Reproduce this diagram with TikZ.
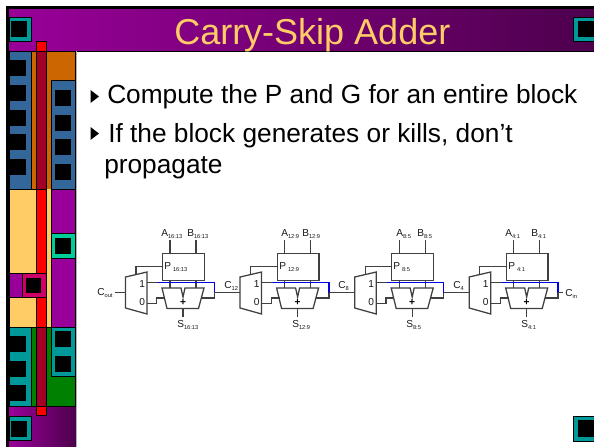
\documentclass[tikz,border=0pt]{standalone}
\usepackage{fontspec}
\setmainfont{Liberation Sans}
\definecolor{vio}{HTML}{990099}
\definecolor{viod}{HTML}{4D004D}
\definecolor{org}{HTML}{CC6600}
\definecolor{lorg}{HTML}{FFCC66}
\definecolor{blu}{HTML}{336699}
\definecolor{teal2}{HTML}{009999}
\definecolor{mint}{HTML}{00CC99}
\definecolor{grn}{HTML}{008000}
\definecolor{mag}{HTML}{CC0066}
\definecolor{dred}{HTML}{A30026}
\definecolor{wireblue}{HTML}{0000E6}
\newcommand{\lab}[2]{{\fontsize{7.6}{9}\selectfont #1}\raisebox{-1.6pt}{\fontsize{4.3}{5}\selectfont #2}}
\newcommand{\labp}[2]{{\fontsize{7.6}{9}\selectfont #1}\hspace{1.5pt}\raisebox{-1.6pt}{\fontsize{4.3}{5}\selectfont #2}}
\tikzset{
  panel/.style={draw=black,line width=0.75pt},
  wire/.style={draw=black!75,line width=0.95pt},
  skipwire/.style={draw=wireblue,line width=0.95pt},
  sym/.style={inner sep=0pt,anchor=base west,text=black!90},
  pbox/.style={draw=black!75,line width=0.95pt,fill=white,inner sep=0pt,anchor=north west,minimum width=31.3pt,minimum height=20.2pt},
  bullettext/.style={inner sep=0pt,anchor=base west,font=\fontsize{19.7}{24}\selectfont,text=black},
  bull/.style={fill=black}
}
\begin{document}
\begin{tikzpicture}[x=0.75pt,y=-0.75pt]
\useasboundingbox (0,0) rectangle (594,447);
\fill[white] (0,0) rectangle (594,447);
% frame and bands
\fill[black] (6,6) rectangle (594,9);
\fill[black] (6,6) rectangle (9,447);
\shade[left color=vio,right color=viod] (9,9) rectangle (594,51);
\draw[black,line width=0.75pt] (9,51) -- (594,51);
\shade[left color=vio,middle color=vio,right color=viod] (9,406) rectangle (76,447);
% left strip panels
\fill[black!30] (75.5,51) rectangle (76.2,447);
\draw[panel,fill=org] (31,51) rectangle (75,189);
\draw[panel,fill=blu] (9,51) rectangle (31,189);
\draw[panel,fill=blu] (51,80) rectangle (75,189);
\draw[panel,fill=lorg] (9,189) rectangle (51,327);
\fill[lorg] (46,189) rectangle (51,327);
\draw[panel,fill=vio] (51,189) rectangle (75,327);
\draw[panel,fill=grn] (31,327) rectangle (75,406);
\draw[panel,fill=teal2] (9,327) rectangle (31,406);
\draw[panel,fill=teal2] (51,327) rectangle (75,376);
\draw[panel,fill=vio] (9,273) rectangle (22,297);
% red column
\draw[panel,fill=red] (36,41) rectangle (46,415);
\draw[panel,fill=dred] (36,51) rectangle (46,189);
\draw[panel,fill=dred] (36,327) rectangle (46,406);
% squares
\draw[panel,fill=teal2] (9,17) rectangle (31,41);
\fill[black] (11,21) rectangle (27,37);
\draw[panel,fill=teal2] (9,416) rectangle (31,440);
\fill[black] (11,421) rectangle (27,437);
\draw[panel,fill=mint] (51,233) rectangle (75,258);
\fill[black] (55,238) rectangle (71,254);
\draw[panel,fill=mag] (22,273) rectangle (46,297);
\fill[black] (26,278) rectangle (41,293);
\foreach \yy in {60,85,110,134,159} \fill[black] (10,\yy) rectangle (25.5,\yy+16);
\foreach \yy in {90,115,139,164} \fill[black] (55,\yy) rectangle (71,\yy+16);
\foreach \yy in {336,361,385} \fill[black] (10,\yy) rectangle (25.5,\yy+16);
\foreach \yy in {331,356} \fill[black] (55,\yy) rectangle (71,\yy+16);
\draw[panel,fill=teal2] (573.5,17) rectangle (596,41);
\fill[black] (578,21) rectangle (596,37);
\draw[panel,fill=teal2] (573.5,416) rectangle (596,441);
\fill[black] (578,420) rectangle (596,437);
% title and bullets
\node[inner sep=0pt,anchor=base west,text=lorg,font=\fontsize{27}{32}\selectfont] (title) at (174,44) {Carry-Skip Adder};
\fill[bull] (90.5,90) -- (99,96.5) -- (90.5,103) -- cycle;
\fill[bull] (90.5,127) -- (99,133.5) -- (90.5,140) -- cycle;
\node[bullettext] (line1) at (107,103) {Compute the P and G for an entire block};
\node[bullettext] (line2) at (108,142) {If the block generates or kills, don’t};
\node[bullettext] (line3) at (104,173) {propagate};
% adder blocks
\foreach \i/\off/\sub/\ax/\bx/\px/\sx in {
  1/0/16:13/161/187/164/177,
  2/114.6/12:9/281/302/279/292,
  3/229.2/8:5/396/417/393/406,
  4/343.7/4:1/505/531/508/521}{
  \begin{scope}[shift={(\off,0)}]
    \node[pbox] (box\i) at (162,253) {};
    \coordinate (a\i) at (170,240);
    \coordinate (b\i) at (196,240);
    \coordinate (atop\i) at (170,253);
    \coordinate (btop\i) at (196,253);
    \coordinate (abot\i) at (170,280);
    \coordinate (bbot\i) at (196,280);
    \coordinate (ain\i) at (170,288);
    \coordinate (bin\i) at (196,288);
    \coordinate (sout\i) at (183,308.5);
    \coordinate (sl\i) at (183,317);
    \coordinate (pl\i) at (162,266.7);
    \coordinate (mt\i) at (136,274.3);
    \coordinate (mi\i) at (125.5,292.7);
    \coordinate (mo\i) at (147,282.3);
    \coordinate (mz\i) at (147,303.6);
    \coordinate (sk\i) at (158,282.3);
    \coordinate (j\i) at (214.3,292.7);
    % mux
    \draw[wire,fill=white] (125.5,277) -- (147,272) -- (147,314) -- (125.5,308) -- cycle;
    % adder
    \draw[wire,fill=white] (162,288) -- (167,308.5) -- (198.5,308.5) -- (204,288) -- (185,288) -- (183,297) -- (181,288) -- cycle;
    \node[sym,font=\fontsize{7.6}{9}\selectfont] (one\i) at (139,287) {1};
    \node[sym,font=\fontsize{7.6}{9}\selectfont] (zero\i) at (139,305.6) {0};
    \node[inner sep=0pt,font=\fontsize{7.6}{9}\selectfont\bfseries] (plus\i) at (183,303) {+};
    % wires
    \draw[wire] (a\i) -- (atop\i);
    \draw[wire] (b\i) -- (btop\i);
    \draw[wire] (abot\i) -- (ain\i);
    \draw[wire] (bbot\i) -- (bin\i);
    \draw[wire] (sout\i) -- (sl\i);
    \draw[wire] (pl\i) -| (mt\i);
    \draw[wire] (mo\i) -- (sk\i);
    \draw[wire] (mz\i) -- (156.8,303.6) -- (156.8,298) -- (165,298);
    \draw[wire] (201.6,298) -- (214.3,298) -- (j\i);
    \draw[skipwire] (sk\i) -- (214.3,282.3) -- (j\i);
  \end{scope}
  \node[sym] (la\i) at (\ax,236) {\lab{A}{\sub}};
  \node[sym] (lb\i) at (\bx,236) {\lab{B}{\sub}};
  \node[sym] (lp\i) at (\px,269) {\labp{P}{\sub}};
  \node[sym] (ls\i) at (\sx,327) {\lab{S}{\sub}};
}
\coordinate (coutend) at (115,292.7);
\coordinate (cinend) at (563,292.7);
\draw[wire] (coutend) -- (mi1);
\draw[wire] (j1) -- (mi2);
\draw[wire] (j2) -- (mi3);
\draw[wire] (j3) -- (mi4);
\draw[wire] (j4) -- (cinend);
\node[sym] (cout) at (97,295.5) {\lab{C}{out}};
\node[sym] (c12) at (224,288) {\lab{C}{12}};
\node[sym] (c8) at (338,288) {\lab{C}{8}};
\node[sym] (c4) at (453,288) {\lab{C}{4}};
\node[sym] (cin) at (565,296) {\lab{C}{in}};
\end{tikzpicture}
\end{document}
